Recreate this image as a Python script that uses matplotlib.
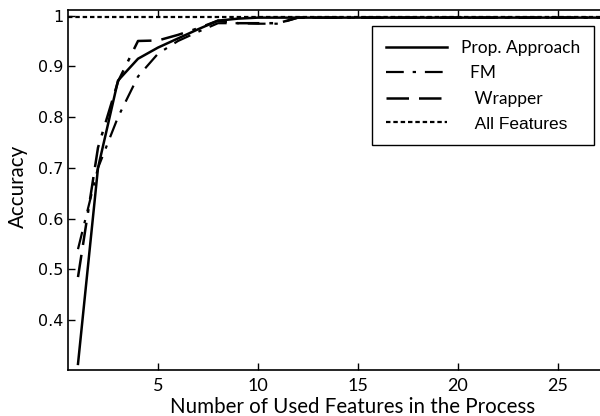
import matplotlib.pyplot as plt
import numpy as np

# Data
n_features = list(range(1, 29))
prop_approach = [0.314, 0.70, 0.872, 0.915, 0.937, 0.955, 0.973, 0.99, 0.994, 0.996] + [0.996] * 18
fm = [0.54, 0.70, 0.80, 0.88, 0.925, 0.95, 0.968, 0.985, 0.985, 0.984, 0.984, 0.996] + [0.996] * 16
wrapper = [0.485, 0.74, 0.87, 0.95, 0.951, 0.962, 0.975, 0.99, 0.985, 0.985, 0.985, 0.996] + [0.996] * 16
all_features = 0.997

plt.rcParams['font.family'] = ['DejaVu Sans']

fig = plt.figure(figsize=(6, 4.16), dpi=100)
ax = fig.add_axes([68 / 600, 46 / 416, 532 / 600, 360 / 416])

ax.plot(n_features, prop_approach, color='black', lw=1.8, label='Prop. Approach')
ax.plot(n_features, fm, color='black', lw=1.6, dashes=(8, 4, 1.5, 4), label='  FM')
ax.plot(n_features, wrapper, color='black', lw=1.8, dashes=(9, 4, 9, 4, 1.5, 4), label='   Wrapper')
ax.axhline(all_features, color='black', lw=1.6, ls=(0, (2, 1.3)), label='   All Features')

ax.set_xlim(0.5, 27.1)
ax.set_ylim(0.302, 1.011)
ax.set_xticks([5, 10, 15, 20, 25])
ax.set_yticks([0.4, 0.5, 0.6, 0.7, 0.8, 0.9, 1.0])
ax.set_yticklabels(['0.4', '0.5', '0.6', '0.7', '0.8', '0.9', '1'])
ax.tick_params(direction='in', top=True, right=False, length=5, width=1)
ax.tick_params(axis='y', labelsize=11.5)
ax.tick_params(axis='x', labelsize=13, pad=6)
for lbl in ax.get_xticklabels():
    lbl.set_family('Lato')
ax.spines['right'].set_visible(False)
for s in ['left', 'bottom', 'top']:
    ax.spines[s].set_linewidth(1.2)

ax.set_xlabel('Number of Used Features in the Process', family='Lato', fontsize=14.8)
ax.xaxis.set_label_coords(0.534, -0.075)
ax.set_ylabel('Accuracy', family='Lato', fontsize=14.8)
ax.yaxis.set_label_coords(-0.076, 0.51)

leg = ax.legend(loc='upper right', bbox_to_anchor=(0.989, 0.956), fancybox=False,
                edgecolor='black', framealpha=1, prop={'family': 'Lato', 'size': 12.5},
                handlelength=3.5, handletextpad=0.8, labelspacing=0.55, borderpad=0.8,
                borderaxespad=0)
leg.get_frame().set_linewidth(1.0)
leg.get_texts()[3].set_family('Liberation Sans')

fig.savefig('out.png', dpi=100)
